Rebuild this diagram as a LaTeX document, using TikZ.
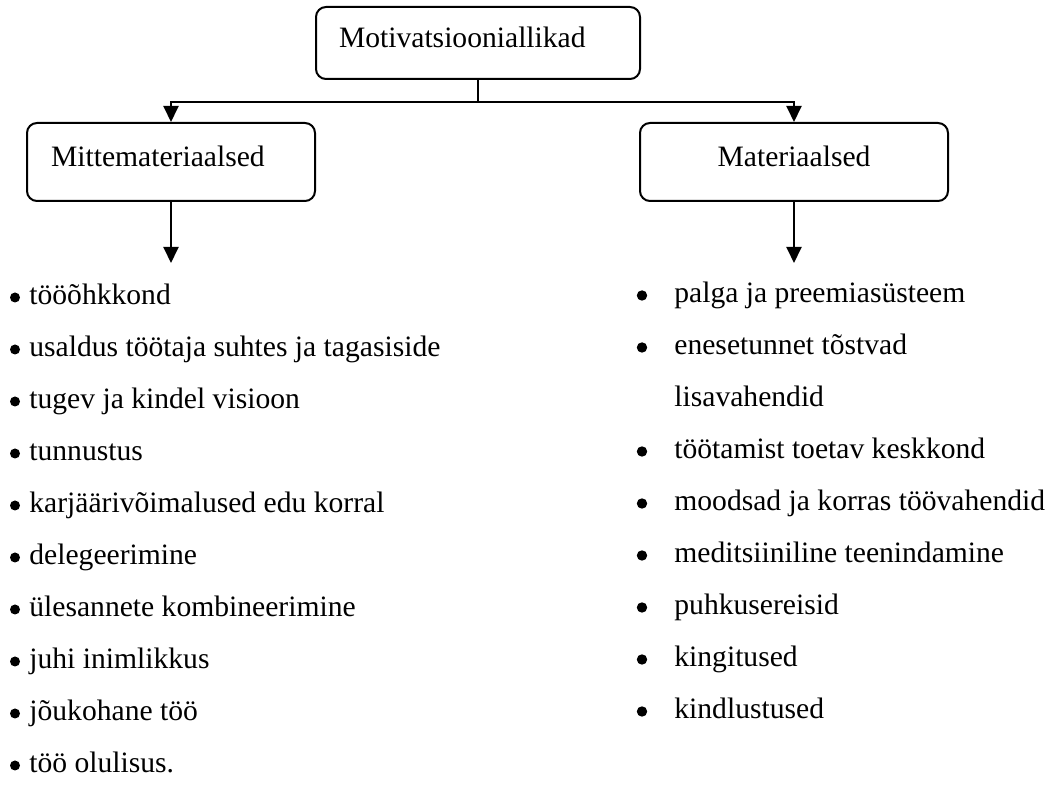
\documentclass[tikz,border=0pt]{standalone}
\usepackage{fontspec}
\setmainfont{Liberation Serif}
\usetikzlibrary{arrows.meta, positioning}
\tikzset{box/.style = {draw, line width = 1pt, rounded corners = 5pt, inner ysep = 0pt,
                       minimum height = 36pt, text depth = 6pt, font = \fontsize{14.8}{18}\selectfont},
         item/.style = {anchor = base west, inner sep = 0pt, font = \fontsize{14.8}{18}\selectfont},
         arr/.style = {line width = 1pt, -{Triangle[length = 8pt, width = 7.5pt]}}}

\begin{document}
\begin{tikzpicture}[x = 0.5pt, y = -0.5pt]
        \useasboundingbox (0,0) rectangle (1051,785);
        % boxes
        \node[box, text width = 139pt, inner xsep = 11.5pt, align = left] (motiv) at (478,43) {Motivatsiooniallikad};
        \node[box, text width = 120pt, inner xsep = 12pt, minimum height = 39pt, align = left] (mitte) at (171,162) {Mittemateriaalsed};
        \node[box, minimum width = 154pt, minimum height = 39pt] (mater) at (794,162) {Materiaalsed};
        % connectors
        \draw[arr] (motiv.south) -- ++(0,22) -| (mitte.north);
        \draw[arr] (motiv.south) -- ++(0,22) -| (mater.north);
        \coordinate (mittetip) at (171,263);
        \coordinate (matertip) at (794,263);
        \draw[arr] (mitte.south) -- (mittetip);
        \draw[arr] (mater.south) -- (matertip);
        % left list
        \foreach \t [count = \i] in {tööõhkkond, usaldus töötaja suhtes ja tagasiside,
            tugev ja kindel visioon, tunnustus, karjäärivõimalused edu korral, delegeerimine,
            ülesannete kombineerimine, juhi inimlikkus, jõukohane töö, töö olulisus.}
        {
            \fill (15,{305+52*(\i-1)-7.5}) circle (2.5pt);
            \node[item] (mm\i) at (29,{305+52*(\i-1)}) {\t};
        }
        % right list
        \foreach \t [count = \i] in {palga ja preemiasüsteem, enesetunnet tõstvad,
            töötamist toetav keskkond, moodsad ja korras töövahendid,
            meditsiiniline teenindamine, puhkusereisid, kingitused, kindlustused}
        {
            \pgfmathtruncatemacro{\r}{\i > 2 ? \i : \i - 1}
            \fill (642,{303+52*\r-7.5}) circle (2.6pt);
            \node[item] (ma\i) at (674,{303+52*\r}) {\t};
        }
        \node[item] (ma2b) at (674,407) {lisavahendid};
\end{tikzpicture}
\end{document}
